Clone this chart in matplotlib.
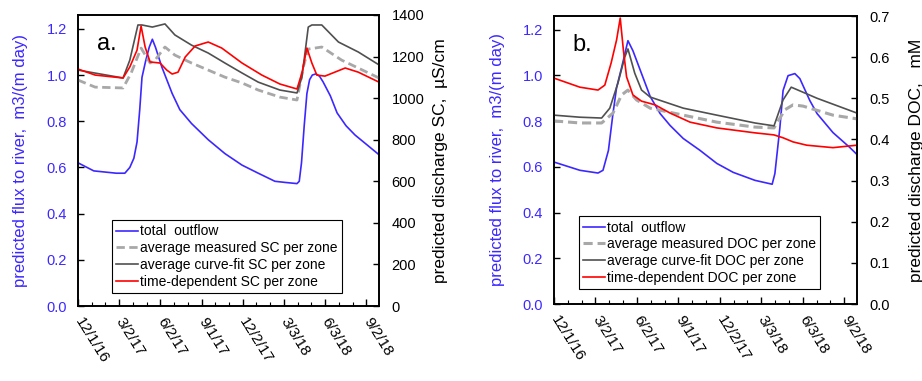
import matplotlib
matplotlib.use("Agg")
import matplotlib.pyplot as plt
import matplotlib.dates as mdates
import numpy as np
import pandas as pd

plt.rcParams['font.family'] = ['Liberation Sans', 'DejaVu Sans']

start = pd.Timestamp('2016-12-01')
tick_labels = ['12/1/16', '3/2/17', '6/2/17', '9/1/17', '12/2/17', '3/3/18', '6/3/18', '9/2/18']

# panel a: flux (m3/(m day)) and SC (uS/cm), x = days since 12/1/16
flux_a_day = [0, 15, 35, 60, 85, 104, 115, 124, 131, 137, 142, 150, 158, 165, 172, 186, 209, 226, 252,
              289, 326, 364, 400, 437, 460, 486, 491, 496, 502, 508, 514, 520, 528, 536, 544, 560, 575,
              595, 615, 640, 668]
flux_a = [0.62, 0.605, 0.585, 0.58, 0.575, 0.575, 0.60, 0.64, 0.71, 0.85, 0.99, 1.06, 1.12, 1.155, 1.12,
          1.035, 0.92, 0.85, 0.79, 0.72, 0.66, 0.61, 0.575, 0.54, 0.535, 0.53, 0.54, 0.62, 0.78, 0.92,
          0.98, 1.0, 1.005, 0.995, 0.97, 0.91, 0.836, 0.78, 0.74, 0.70, 0.655]

sc_time_day = [0, 38, 100, 115, 131, 140, 149, 160, 182, 197, 209, 222, 238, 260, 289, 319, 364, 408,
               448, 486, 497, 508, 519, 530, 548, 593, 622, 668]
sc_time = [1140, 1111, 1097, 1150, 1231, 1347, 1246, 1174, 1169, 1135, 1116, 1125, 1198, 1251, 1270,
           1241, 1169, 1111, 1068, 1044, 1121, 1241, 1169, 1111, 1106, 1145, 1125, 1077]

sc_fit_day = [0, 100, 115, 133, 142, 165, 193, 215, 252, 289, 326, 364, 400, 448, 486, 497, 511, 519,
              541, 578, 622, 668]
sc_fit = [1135, 1097, 1183, 1352, 1352, 1342, 1357, 1304, 1255, 1217, 1169, 1121, 1077, 1039, 1025,
          1101, 1342, 1352, 1352, 1270, 1222, 1160]

sc_meas_day = [0, 38, 100, 118, 140, 160, 171, 193, 215, 252, 289, 326, 364, 400, 448, 486, 500, 511,
               541, 585, 668]
sc_meas = [1087, 1053, 1049, 1121, 1241, 1169, 1183, 1246, 1207, 1169, 1135, 1101, 1073, 1039, 1005,
           991, 1150, 1236, 1246, 1183, 1097]

# panel b: flux and DOC (mM)
flux_b_day = [0, 57, 97, 108, 120, 130, 138, 149, 163, 174, 193, 212, 234, 256, 285, 322, 359, 395,
              443, 481, 487, 498, 505, 516, 531, 542, 564, 580, 615, 652, 668]
flux_b = [0.621, 0.585, 0.573, 0.585, 0.672, 0.833, 0.947, 1.034, 1.152, 1.108, 1.008, 0.908, 0.833,
          0.781, 0.724, 0.672, 0.615, 0.576, 0.541, 0.524, 0.571, 0.772, 0.934, 0.999, 1.008, 0.986,
          0.89, 0.833, 0.75, 0.685, 0.654]

doc_time_day = [0, 57, 97, 112, 126, 138, 146, 153, 160, 174, 193, 223, 256, 300, 359, 443, 485, 505,
                527, 557, 615, 668]
doc_time = [0.549, 0.527, 0.52, 0.532, 0.586, 0.642, 0.695, 0.617, 0.552, 0.508, 0.493, 0.484, 0.464,
            0.442, 0.428, 0.416, 0.411, 0.404, 0.394, 0.386, 0.38, 0.386]

doc_fit_day = [0, 57, 105, 123, 141, 156, 163, 178, 193, 212, 285, 359, 443, 485, 505, 523, 580, 668]
doc_fit = [0.459, 0.454, 0.452, 0.476, 0.537, 0.60, 0.62, 0.561, 0.52, 0.503, 0.476, 0.459, 0.44,
           0.433, 0.496, 0.527, 0.50, 0.464]

doc_meas_day = [0, 57, 105, 130, 149, 163, 182, 212, 285, 359, 443, 485, 509, 527, 549, 615, 668]
doc_meas = [0.445, 0.44, 0.44, 0.464, 0.508, 0.52, 0.496, 0.476, 0.459, 0.442, 0.43, 0.428, 0.472,
            0.484, 0.481, 0.459, 0.45]

blue = '#3c28ff'
dark = '#505050'
light = '#a8a8a8'
red = '#ff0000'


def to_dates(days):
    return start + pd.to_timedelta(np.array(days), unit='D')


def setup(ax, ax2, right_ticks, right_fmt, right_lim, right_label, left_lab_x, right_lab_x):
    x0 = mdates.date2num(start)
    ax.set_xlim(x0, x0 + 668)
    ax.set_xticks([x0 + 91.4 * i for i in range(8)])
    ax.set_xticks(x0 + np.arange(0, 668, 91.4 / 3), minor=True)
    ax.set_xticklabels(tick_labels, rotation=-58, ha='left', va='center', rotation_mode='anchor',
                       fontsize=11)
    ax.tick_params(axis='x', which='major', direction='in', length=5, width=1, pad=9, top=False)
    ax.tick_params(axis='x', which='minor', direction='in', length=3, width=0.8, top=False)
    ax.set_ylim(0, 1.26)
    ax.set_yticks([0, 0.2, 0.4, 0.6, 0.8, 1.0, 1.2])
    ax.set_yticklabels(['0.0', '0.2', '0.4', '0.6', '0.8', '1.0', '1.2'])
    ax.tick_params(axis='y', direction='in', length=4, width=1, pad=8, labelsize=10.5, labelcolor=blue)
    ax.set_ylabel('predicted flux to river,  m3/(m day)', color=blue, fontsize=12)
    ax.yaxis.set_label_coords(left_lab_x, 0.5)
    ax2.set_ylim(*right_lim)
    ax2.set_yticks(right_ticks)
    ax2.set_yticklabels([right_fmt.format(t) for t in right_ticks])
    ax2.tick_params(axis='y', direction='in', length=4, width=1, pad=9, labelsize=10.5)
    ax2.set_ylabel(right_label, fontsize=12.5)
    ax2.yaxis.set_label_coords(right_lab_x, 0.5)
    for a in (ax, ax2):
        for s in a.spines.values():
            s.set_linewidth(1.2)


fig = plt.figure(figsize=(9.22, 3.81), dpi=100)

# ---- panel a
ax = fig.add_axes([78 / 922, 1 - 306 / 381, 301 / 922, 291 / 381])
ax2 = ax.twinx()
l1, = ax.plot(to_dates(flux_a_day), flux_a, color=blue, lw=1.2, label='total  outflow')
l2, = ax2.plot(to_dates(sc_meas_day), sc_meas, color=light, lw=2, ls=(0, (3, 1.6)),
               label='average measured SC per zone')
l3, = ax2.plot(to_dates(sc_fit_day), sc_fit, color=dark, lw=1.2, label='average curve-fit SC per zone')
l4, = ax2.plot(to_dates(sc_time_day), sc_time, color=red, lw=1.2, label='time-dependent SC per zone')
setup(ax, ax2, list(range(0, 1401, 200)), '{:d}', (0, 1400), 'predicted discharge SC,  µS/cm',
      -0.166, 1.18)
ax.text(0.063, 0.90, 'a.', transform=ax.transAxes, fontsize=17, va='center')
leg = ax2.legend(handles=[l1, l2, l3, l4], loc='lower left', bbox_to_anchor=(0.113, 0.045),
                 borderaxespad=0, fontsize=10, handlelength=1.6, handletextpad=0.15,
                 labelspacing=0.2, borderpad=0.3, fancybox=False, framealpha=1, edgecolor='black')
leg.get_frame().set_linewidth(0.8)

# ---- panel b
bx = fig.add_axes([554 / 922, 1 - 304 / 381, 303 / 922, 288 / 381])
bx2 = bx.twinx()
m1, = bx.plot(to_dates(flux_b_day), flux_b, color=blue, lw=1.2, label='total  outflow')
m2, = bx2.plot(to_dates(doc_meas_day), doc_meas, color=light, lw=2.2, ls=(0, (3, 1.6)),
               label='average measured DOC per zone')
m3, = bx2.plot(to_dates(doc_fit_day), doc_fit, color=dark, lw=1.2, label='average curve-fit DOC per zone')
m4, = bx2.plot(to_dates(doc_time_day), doc_time, color=red, lw=1.2, label='time-dependent DOC per zone')
setup(bx, bx2, [0, 0.1, 0.2, 0.3, 0.4, 0.5, 0.6, 0.7], '{:.1f}', (0, 0.7),
      'predicted discharge DOC,   mM', -0.162, 1.17)
bx.text(0.06, 0.90, 'b.', transform=bx.transAxes, fontsize=17, va='center')
leg = bx2.legend(handles=[m1, m2, m3, m4], loc='lower left', bbox_to_anchor=(0.082, 0.052),
                 borderaxespad=0, fontsize=10, handlelength=1.6, handletextpad=0.15,
                 labelspacing=0.2, borderpad=0.3, fancybox=False, framealpha=1, edgecolor='black')
leg.get_frame().set_linewidth(0.8)

fig.savefig('out.png', dpi=100)
